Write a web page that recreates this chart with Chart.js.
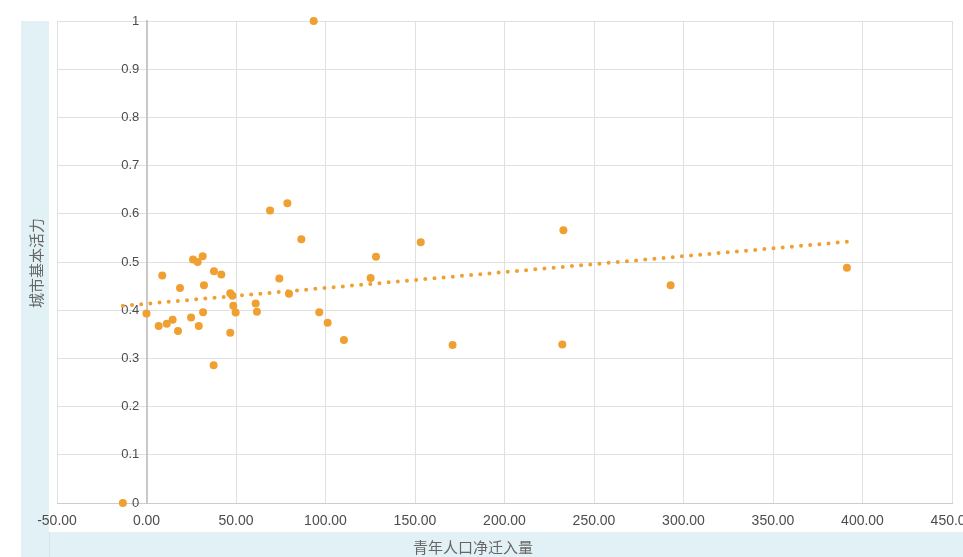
<!DOCTYPE html>
<html>
<head>
<meta charset="utf-8">
<script src="https://cdn.jsdelivr.net/npm/chart.js@4/dist/chart.umd.min.js"></script>
<style>
  html, body { margin: 0; padding: 0; background: #fff; overflow: hidden; }
  #wrap { width: 963px; height: 557px; position: relative; }
</style>
</head>
<body>
<div id="wrap"><canvas id="chart"></canvas></div>
<script>
// ── data ──
const netInflow = [-13.2, 0, 6.8, 8.8, 11.3, 14.6, 17.6, 18.7, 24.9, 26, 28.6, 29.2, 31.4, 31.6, 32.1,
  37.5, 37.7, 41.8, 46.8, 48, 48.5, 49.8, 46.8, 61, 61.7, 69, 74.2, 78.7, 79.6, 86.5, 93.4,
  96.5, 101.2, 110.3, 125.2, 128.2, 153.2, 171, 232.3, 232.9, 292.8, 391.3];
const vitality = [0, 0.393, 0.367, 0.472, 0.372, 0.380, 0.357, 0.446, 0.385, 0.505, 0.500, 0.367, 0.512, 0.396, 0.452,
  0.286, 0.481, 0.474, 0.435, 0.430, 0.409, 0.395, 0.353, 0.414, 0.397, 0.607, 0.466, 0.622, 0.434, 0.547, 1.0,
  0.396, 0.374, 0.338, 0.467, 0.511, 0.541, 0.328, 0.329, 0.566, 0.452, 0.488];
const trendX = [-13.2, 391.3];
const trendY = [0.409, 0.542];
const xTickLabels = ['-50.00', '0.00', '50.00', '100.00', '150.00', '200.00', '250.00', '300.00', '350.00', '400.00', '450.00'];
const yTickLabels = ['0', '0.1', '0.2', '0.3', '0.4', '0.5', '0.6', '0.7', '0.8', '0.9', '1'];
const xTitle = '青年人口净迁入量';
const yTitle = '城市基本活力';

const ORANGE = '#f0a030';
const FONT = '"Liberation Sans", Arial, sans-serif';

// axis title bands + titles
const bands = {
  id: 'bands',
  beforeDraw(chart) {
    const { ctx, chartArea: a } = chart;
    ctx.save();
    ctx.fillStyle = '#e2f1f5';
    ctx.fillRect(a.left - 36, a.top, 28, chart.height - a.top);
    ctx.fillRect(a.left - 8, a.bottom + 29, chart.width - a.left + 8, chart.height - a.bottom - 29);
    ctx.fillStyle = '#cfe5eb';
    ctx.fillRect(a.left - 8, a.bottom + 29, 1, chart.height - a.bottom - 29);
    ctx.fillStyle = '#666';
    ctx.font = '15px "Noto Sans CJK SC", sans-serif';
    ctx.textAlign = 'center';
    ctx.textBaseline = 'middle';
    ctx.fillText(xTitle, a.left + 416, a.bottom + 44);
    ctx.translate(a.left - 21, (a.top + a.bottom) / 2 + 1);
    ctx.rotate(-Math.PI / 2);
    ctx.fillText(yTitle, 0, 0);
    ctx.restore();
  }
};

new Chart(document.getElementById('chart'), {
  type: 'scatter',
  data: {
    datasets: [
      {
        label: 'trend', type: 'line',
        data: trendX.map((x, i) => ({ x, y: trendY[i] })),
        borderColor: ORANGE, borderWidth: 4, borderDash: [0, 9.2], borderCapStyle: 'round',
        pointRadius: 0, fill: false, clip: false
      },
      {
        label: yTitle,
        data: netInflow.map((x, i) => ({ x, y: vitality[i] })),
        backgroundColor: ORANGE, borderColor: ORANGE, borderWidth: 0,
        pointRadius: 4, clip: false
      }
    ]
  },
  options: {
    responsive: true, maintainAspectRatio: false, animation: false,
    devicePixelRatio: 1,
    layout: { padding: { left: 57, right: 11, top: 21, bottom: 25 } },
    plugins: { legend: { display: false }, tooltip: { enabled: false } },
    scales: {
      x: {
        type: 'linear', min: -50, max: 450,
        ticks: {
          stepSize: 50, color: '#4d4d4d', font: { family: FONT, size: 14 }, padding: 10, maxRotation: 0, autoSkip: false,
          callback: (v, i) => xTickLabels[i]
        },
        grid: { color: '#e0e0e0', drawTicks: false },
        border: { color: '#cccccc' },
        afterFit(s) { s.height = 29; s.paddingLeft = 0; s.paddingRight = 0; }
      },
      y: {
        type: 'linear', min: 0, max: 1, position: { x: 0 },
        ticks: {
          stepSize: 0.1, color: '#4d4d4d', font: { family: FONT, size: 13 },
          // labels sit right against the x=0 line; trailing spaces leave the gap
          callback: (v, i) => yTickLabels[i] + '  '
        },
        grid: { color: '#e0e0e0', drawTicks: false },
        border: { color: '#c8c8c8', width: 2 },
        afterFit(s) { s.paddingTop = 0; s.paddingBottom = 0; }
      }
    }
  },
  plugins: [bands]
});
</script>
</body>
</html>
